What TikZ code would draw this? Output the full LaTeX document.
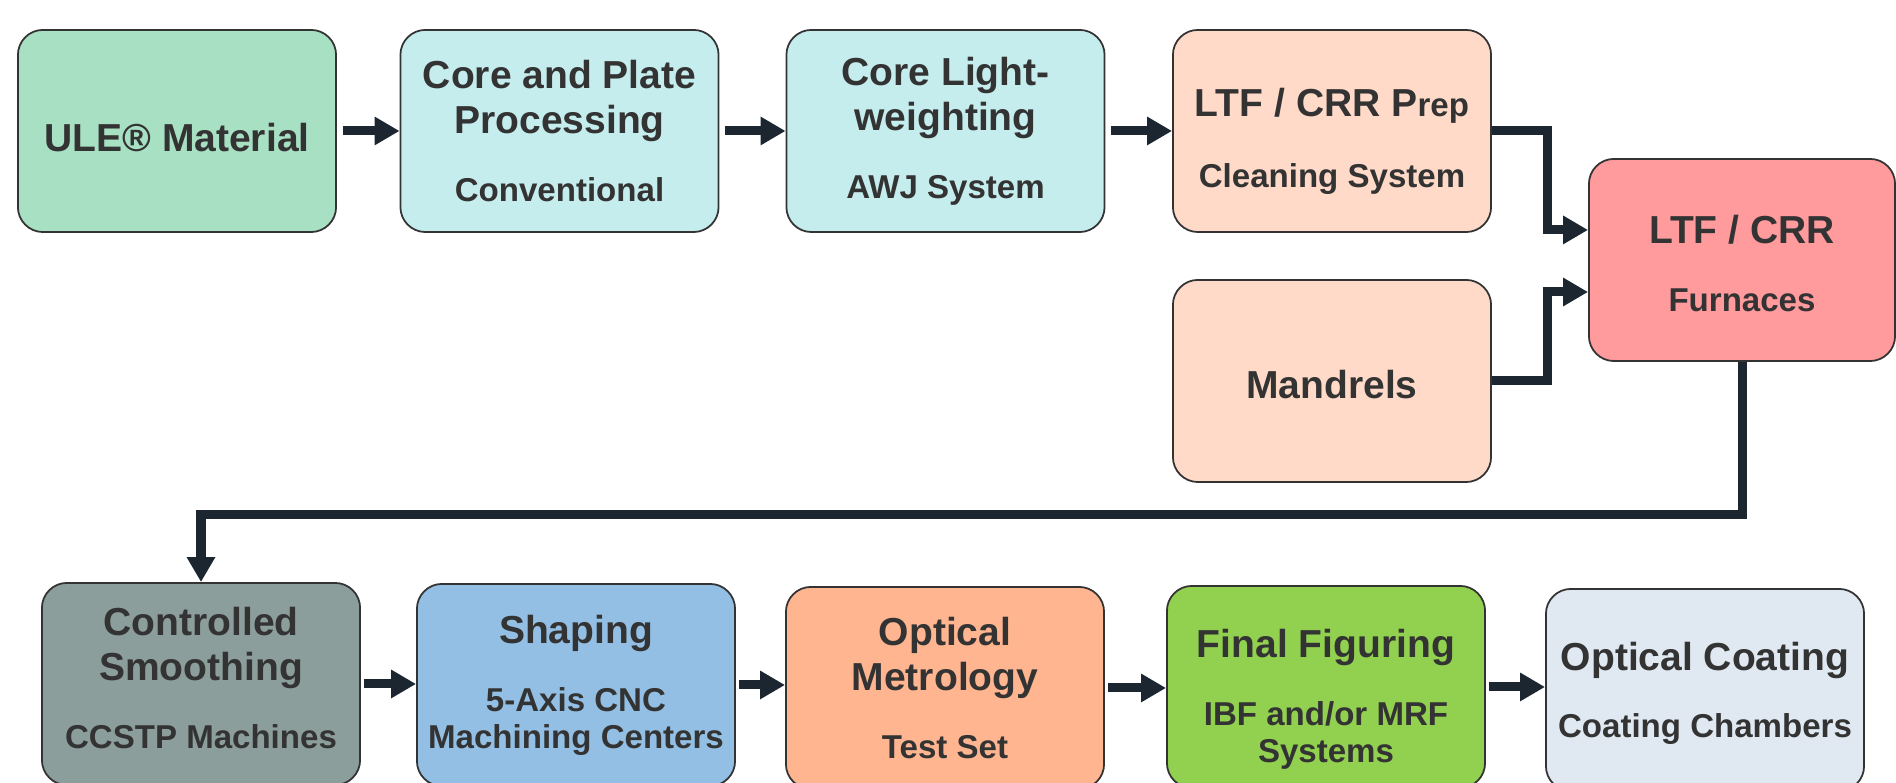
\documentclass[tikz,border=0pt]{standalone}
\usepackage{fontspec}
\setmainfont{Liberation Sans}
\usepackage{xcolor}
\usetikzlibrary{arrows.meta,positioning,calc}
\definecolor{ulegreen}{HTML}{A8E0C3}
\definecolor{coreblue}{HTML}{C5EDEE}
\definecolor{peach}{HTML}{FFDAC8}
\definecolor{furnred}{HTML}{FF9A9D}
\definecolor{smoothgrey}{HTML}{8C9E9B}
\definecolor{shapeblue}{HTML}{92BFE3}
\definecolor{metroorange}{HTML}{FFB590}
\definecolor{figgreen}{HTML}{92D050}
\definecolor{coatgrey}{HTML}{E0E9F1}
\definecolor{linkdark}{HTML}{1B2631}
\definecolor{textdark}{HTML}{333333}
\newcommand\Sub{\fontsize{9.4pt}{10.5pt}\selectfont}
\newcommand\Lift[1]{\rule{0pt}{#1}}
\tikzset{
  stage/.style={
    shape = rectangle,
    draw = textdark,
    line width = 0.5pt,
    rounded corners = 0.25cm,
    minimum width = 3.18cm,
    minimum height = 2.02cm,
    align = center,
    text = textdark,
    inner sep = 0pt,
    font = \fontsize{11.1pt}{12.8pt}\selectfont\bfseries
  },
}
\tikzset{
  link/.style={
    draw = linkdark,
    line width = 0.09cm,
    -{Triangle[length=0.25cm,width=0.27cm]}
  },
}
\begin{document}
\begin{tikzpicture}[x=0.01cm,y=0.01cm]
    \useasboundingbox (0,0) rectangle (1896,783);
    \clip (0,0) rectangle (1896,783);

    % top row
    \node[stage, fill=ulegreen] (ule) at (177,652) {\Lift{11.6pt}ULE\textregistered{} Material};
    \node[stage, fill=coreblue] (core) at (559.5,652)
        {Core and Plate\\Processing\\[6.5pt]{\Sub Conventional}};
    \node[stage, fill=coreblue] (light) at (945.5,652)
        {Core Light-\\weighting\\[6.5pt]{\Sub AWJ System}};
    \node[stage, fill=peach] (prep) at (1332,652)
        {\Lift{14pt}LTF / CRR P{\Sub rep}\\[7.5pt]{\Sub Cleaning System}};
    \node[stage, fill=peach] (mandrels) at (1332,402) {\Lift{10pt}Mandrels};
    \node[stage, fill=furnred, minimum width=3.06cm] (furnace) at (1742,523)
        {\Lift{10.2pt}LTF / CRR\\[6.5pt]{\Sub Furnaces}};

    % bottom row
    \node[stage, fill=smoothgrey] (smooth) at (201,99)
        {Controlled\\Smoothing\\[6.5pt]{\Sub CCSTP Machines\rule[-3.4pt]{0pt}{0pt}}};
    \node[stage, fill=shapeblue] (shaping) at (576,98)
        {Shaping\\[6.5pt]{\Sub 5-Axis CNC}\\[-2.3pt]{\Sub Machining Centers}};
    \node[stage, fill=metroorange] (metro) at (945,95)
        {Optical\\Metrology\\[6.5pt]{\Sub Test Set}};
    \node[stage, fill=figgreen] (figure) at (1326,96)
        {\Lift{15pt}Final Figuring\\[6.5pt]{\Sub IBF and/or MRF}\\[-2.3pt]{\Sub Systems}};
    \node[stage, fill=coatgrey] (coat) at (1705,93)
        {\Lift{10pt}Optical Coating\\[6.5pt]{\Sub Coating Chambers}};

    % connectors
    \draw[link, shorten <=0.06cm] (ule.east) -- (core.west);
    \draw[link, shorten <=0.06cm] (core.east) -- (light.west);
    \draw[link, shorten <=0.06cm] (light.east) -- (prep.west);
    \draw[link] (prep.east) -- ++(56,0) |- ([yshift=0.3cm]furnace.west);
    \draw[link] (mandrels.east) -- ++(56,0) |- ([yshift=-0.32cm]furnace.west);
    \draw[link] (furnace.south) -- ++(0,-153) -| (smooth.north);
    \draw[link, shorten <=0.03cm] (smooth.east) -- (smooth.east -| shaping.west);
    \draw[link, shorten <=0.03cm] (shaping.east) -- (shaping.east -| metro.west);
    \draw[link, shorten <=0.03cm] (metro.east) -- (metro.east -| figure.west);
    \draw[link, shorten <=0.03cm] (figure.east) -- (figure.east -| coat.west);
\end{tikzpicture}
\end{document}
